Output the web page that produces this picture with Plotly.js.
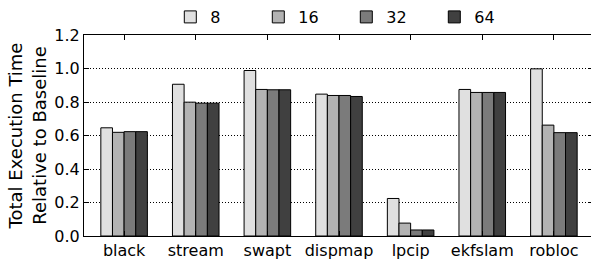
<!DOCTYPE html>
<html>
<head>
<meta charset="utf-8">
<script src="https://cdn.plot.ly/plotly-3.0.1.min.js"></script>
<style>
html, body { margin: 0; padding: 0; overflow: hidden; background: #fff; }
#chart { width: 594px; height: 260px; }
</style>
</head>
<body>
<div id="chart"></div>
<script>
const categories = ["black", "stream", "swapt", "dispmap", "lpcip", "ekfslam", "robloc"];
const seriesNames = ["8", "16", "32", "64"];
const values8  = [0.646, 0.906, 0.988, 0.847, 0.224, 0.875, 0.998];
const values16 = [0.619, 0.799, 0.875, 0.839, 0.077, 0.857, 0.662];
const values32 = [0.623, 0.793, 0.873, 0.839, 0.036, 0.857, 0.617];
const values64 = [0.623, 0.793, 0.873, 0.833, 0.036, 0.857, 0.617];
const seriesColors = ["#e0e0e0", "#b3b3b3", "#7b7b7b", "#404040"];
const yTicks = [0.0, 0.2, 0.4, 0.6, 0.8, 1.0, 1.2];

const allValues = [values8, values16, values32, values64];
const font = "DejaVu Sans, sans-serif";

const traces = allValues.map((vals, i) => ({
  type: "bar",
  name: seriesNames[i],
  x: categories,
  y: vals,
  marker: { color: seriesColors[i], line: { color: "#000", width: 1 } },
  hoverinfo: "skip"
}));

const layout = {
  width: 594,
  height: 260,
  margin: { l: 84, r: 0, t: 35, b: 24, pad: 0 },
  paper_bgcolor: "#fff",
  plot_bgcolor: "#fff",
  font: { family: font, size: 16, color: "#000" },
  barmode: "group",
  bargap: 0.35,
  bargroupgap: 0,
  showlegend: true,
  legend: {
    orientation: "h",
    xref: "container", yref: "container",
    x: 0.2867, y: 1.0, xanchor: "left", yanchor: "top",
    font: { family: font, size: 16 },
    itemwidth: 30,
    entrywidth: 43, entrywidthmode: "pixels",
    bgcolor: "rgba(0,0,0,0)",
    traceorder: "normal"
  },
  xaxis: {
    type: "category",
    range: [-0.56, 6.56],
    showline: true, linecolor: "#000", linewidth: 1, mirror: "ticks",
    ticks: "inside", ticklen: 5, tickcolor: "#000", tickwidth: 1,
    showgrid: false, zeroline: false,
    tickfont: { family: font, size: 16 }
  },
  yaxis: {
    range: [0, 1.2],
    tickvals: yTicks,
    ticktext: yTicks.map(v => v.toFixed(1)),
    showline: true, linecolor: "#000", linewidth: 1, mirror: "ticks",
    ticks: "inside", ticklen: 5, tickcolor: "#000", tickwidth: 1,
    showgrid: true, gridcolor: "#000", gridwidth: 1, griddash: "1px,2px",
    zeroline: false,
    tickfont: { family: font, size: 16 },
    title: { text: "Total Execution Time<br>Relative to Baseline", font: { family: font, size: 18 }, standoff: 3 }
  }
};

Plotly.newPlot("chart", traces, layout, { displayModeBar: false, staticPlot: true });
</script>
</body>
</html>
